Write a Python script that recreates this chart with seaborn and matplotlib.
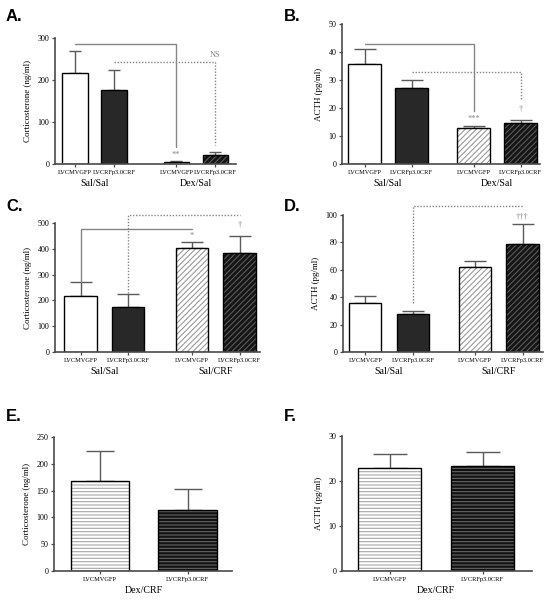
import numpy as np
import pandas as pd
import matplotlib
matplotlib.use("Agg")
import matplotlib.pyplot as plt
from matplotlib.patches import Rectangle
import seaborn as sns

# ---------------- data ----------------
vectors = ["LVCMVGFP", "LVCRFp3.0CRF"]
groups_AB = ["Sal/Sal", "Dex/Sal"]
groups_CD = ["Sal/Sal", "Sal/CRF"]
groups_EF = ["Dex/CRF"]

A_cort = [216, 176, 5.5, 21.5]
A_sem = [54, 48.5, 2.5, 6.5]
B_acth = [35.6, 27.3, 13.0, 14.5]
B_sem = [5.5, 2.7, 0.6, 1.2]
C_cort = [217, 176, 404, 382]
C_sem = [53, 48, 21, 67]
D_acth = [35.5, 27.5, 61.8, 78.8]
D_sem = [5.4, 2.6, 4.8, 14.6]
E_cort = [167, 114]
E_sem = [57.5, 39]
F_acth = [23.0, 23.3]
F_sem = [3.1, 3.1]

# significance brackets: (style, [(bar index, level), ...]) and labels (bar index, level, text)
A_brackets = [("solid", [(0, 286), (2, 286), (2, 40)]),
              ("dotted", [(1, 243), (3, 243), (3, 45)])]
A_marks = [(2, 11, "**"), (3, 250, "NS")]
B_brackets = [("solid", [(0, 42.9), (2, 42.9), (2, 18.9)]),
              ("dotted", [(1, 32.9), (3, 32.9), (3, 22.9)])]
B_marks = [(2, 14.8, "***"), (3, 18.2, "†")]
C_brackets = [("solid", [(0, 272), (0, 477), (2, 477)]),
              ("dotted", [(1, 228), (1, 531), (3, 531)])]
C_marks = [(2, 436, "*"), (3, 478, "†")]
D_brackets = [("dotted", [(1, 35.8), (1, 106.6), (3, 106.6)])]
D_marks = [(3, 95.5, "†††")]

# ---------------- style ----------------
sns.set_theme(style="white")
plt.rcParams["font.family"] = ["Liberation Serif", "DejaVu Serif"]
plt.rcParams["hatch.linewidth"] = 0.8
plt.rcParams["text.color"] = "black"
plt.rcParams["axes.labelcolor"] = "black"
plt.rcParams["xtick.color"] = "black"
plt.rcParams["ytick.color"] = "black"

WHITE, DARK, BLACKISH = "white", "#282828", "#151515"
LINEC = "#858585"
AXC = "#4a4a4a"

fig = plt.figure(figsize=(5.55, 6.0), dpi=100)


def px_rect(x0, x1, ytop, ybot):
    return [x0 / 555, 1 - ybot / 600, (x1 - x0) / 555, (ybot - ytop) / 600]


def panel(rect, letter, letter_px, values, sems, ylim, yticks, ylabel, gap, width,
          xlim, fills, hatches, hatch_colors, groups, capsize, brackets=(), marks=()):
    ax = fig.add_axes(rect)
    n = len(values)
    if n == 4:
        pos = np.array([0.0, 1.0, 1.0 + gap, 2.0 + gap])
    else:
        pos = np.array([0.0, 1.0])
    df = pd.DataFrame({"pos": pos, "val": values})
    sns.barplot(data=df, x="pos", y="val", native_scale=True, width=width,
                errorbar=None, color="white", edgecolor="black", linewidth=1.0,
                ax=ax, zorder=2)
    bars = sorted(ax.patches, key=lambda p: p.get_x())
    for p, fc, h, hc in zip(bars, fills, hatches, hatch_colors):
        p.set_facecolor(fc)
        p.set_zorder(2)
        if h:
            p.set_hatch(h)
            p.set_edgecolor(hc)
            p.set_linewidth(0)
            ax.add_patch(Rectangle((p.get_x(), p.get_y()), p.get_width(), p.get_height(),
                                   fill=False, edgecolor="black", lw=1.0, zorder=2.1))
    ax.errorbar(pos, values, yerr=[np.zeros(n), sems], fmt="none", ecolor="#5a5a5a",
                elinewidth=1.0, capsize=capsize, capthick=1.0, zorder=1)

    ax.set_xlim(*xlim)
    ax.set_ylim(*ylim)
    ax.set_yticks(yticks)
    ax.set_yticklabels([str(t) for t in yticks], fontsize=5.8, color="black")
    ax.set_xticks(pos)
    ax.set_xticklabels(vectors * (n // 2), fontsize=4.6, color="black")
    ax.set_xlabel("")
    ax.set_ylabel(ylabel, fontsize=6.5, labelpad=4, color="black")
    for s in ["top", "right"]:
        ax.spines[s].set_visible(False)
    for s in ["left", "bottom"]:
        ax.spines[s].set_color(AXC)
        ax.spines[s].set_linewidth(1.2)
    ax.tick_params(axis="both", which="major", length=2.5, width=0.9, color=AXC,
                   pad=1.5, left=True, bottom=True)
    # group labels
    for g, name in enumerate(groups):
        xc = pos[2 * g:2 * g + 2].mean()
        ax.annotate(name, xy=(xc, 0), xycoords=("data", "axes fraction"),
                    xytext=(0, -11), textcoords="offset points",
                    ha="center", va="top", fontsize=7.2, color="black")
    for style, pts in brackets:
        xs = [pos[i] for i, _ in pts]
        ys = [v for _, v in pts]
        ls = "-" if style == "solid" else (0, (1, 1.2))
        ax.plot(xs, ys, color=LINEC, lw=1.0, ls=ls, clip_on=False, zorder=3)
    for i, v, t in marks:
        ax.text(pos[i], v, t, ha="center", va="bottom", fontsize=6, color=LINEC,
                clip_on=False)
    fig.text(letter_px[0] / 555, 1 - letter_px[1] / 600, letter, ha="left", va="top",
             fontsize=12, fontweight="bold", family="Liberation Sans", color="black")
    return ax


diag = "//////"
horiz = "-----"
fills4 = [WHITE, DARK, WHITE, BLACKISH]
hatch4 = [None, None, diag, diag]
hcol4 = [None, None, "#9a9a9a", "#5a5a5a"]

panel(px_rect(55, 236, 38, 164), "A.", (6, 9), A_cort, A_sem, (0, 300),
      [0, 100, 200, 300], "Corticosterone (ng/ml)", 1.6, 0.65, (-0.51, 4.13),
      fills4, hatch4, hcol4, groups_AB, 4.3, A_brackets, A_marks)
panel(px_rect(342, 540, 24, 164), "B.", (284, 9), B_acth, B_sem, (0, 50),
      [0, 10, 20, 30, 40, 50], "ACTH (pg/ml)", 1.32, 0.70, (-0.48, 3.73),
      fills4, hatch4, hcol4, groups_AB, 8.0, B_brackets, B_marks)
panel(px_rect(55, 260, 223, 352), "C.", (6, 199), C_cort, C_sem, (0, 500),
      [0, 100, 200, 300, 400, 500], "Corticosterone (ng/ml)", 1.35, 0.68, (-0.54, 3.78),
      fills4, hatch4, hcol4, groups_CD, 8.0, C_brackets, C_marks)
panel(px_rect(343, 543, 215, 352), "D.", (284, 199), D_acth, D_sem, (0, 100),
      [0, 20, 40, 60, 80, 100], "ACTH (pg/ml)", 1.31, 0.68, (-0.47, 3.74),
      fills4, hatch4, hcol4, groups_CD, 8.0, D_brackets, D_marks)
panel(px_rect(54, 232, 437, 571), "E.", (6, 409), E_cort, E_sem, (0, 250),
      [0, 50, 100, 150, 200, 250], "Corticosterone (ng/ml)", 0, 0.67, (-0.53, 1.51),
      [WHITE, "#111111"], [horiz, horiz], ["#a8a8a8", "#666666"], groups_EF, 10.0)
panel(px_rect(342, 532, 436, 571), "F.", (284, 409), F_acth, F_sem, (0, 30),
      [0, 10, 20, 30], "ACTH (pg/ml)", 0, 0.68, (-0.51, 1.53),
      [WHITE, "#111111"], [horiz, horiz], ["#a8a8a8", "#666666"], groups_EF, 12.0)

fig.savefig("out.png", dpi=100)
